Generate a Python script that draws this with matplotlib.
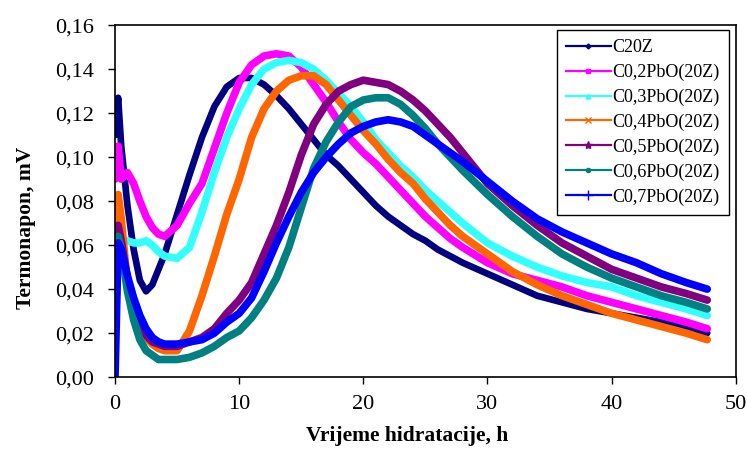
import matplotlib
matplotlib.use("Agg")
import matplotlib.pyplot as plt
from matplotlib.lines import Line2D
from matplotlib.ticker import FuncFormatter, MultipleLocator

plt.rcParams['font.family'] = ['Liberation Serif', 'DejaVu Serif']

# time grid (h)
t = [0, 0.25, 0.5, 1, 1.5, 2, 2.5, 3, 3.5, 4, 5, 6, 7, 8, 9, 10, 11, 12, 13, 14,
     15, 16, 17, 18, 19, 20, 21, 22, 23, 24, 25, 26, 27, 28, 30, 32, 34, 36, 38,
     40, 42, 44, 46, 47.7]

series_names = ["C20Z", "C0,2PbO(20Z)", "C0,3PbO(20Z)", "C0,4PbO(20Z)",
                "C0,5PbO(20Z)", "C0,6PbO(20Z)", "C0,7PbO(20Z)"]

c20z = [0.110, 0.127, 0.105, 0.078, 0.058, 0.044, 0.039, 0.042, 0.049, 0.056,
        0.074, 0.092, 0.109, 0.123, 0.132, 0.136, 0.136, 0.133, 0.128, 0.122,
        0.115, 0.108, 0.101, 0.096, 0.090, 0.084, 0.078, 0.073, 0.069, 0.065,
        0.062, 0.058, 0.055, 0.052, 0.047, 0.042, 0.037, 0.034, 0.031, 0.029,
        0.027, 0.025, 0.022, 0.020]
c02 = [0.090, 0.105, 0.090, 0.093, 0.088, 0.080, 0.073, 0.068, 0.065, 0.064,
       0.069, 0.079, 0.088, 0.104, 0.120, 0.134, 0.142, 0.146, 0.147, 0.146,
       0.141, 0.133, 0.125, 0.116, 0.108, 0.102, 0.097, 0.091, 0.085, 0.079,
       0.073, 0.068, 0.063, 0.059, 0.052, 0.047, 0.044, 0.041, 0.037, 0.034,
       0.031, 0.028, 0.025, 0.022]
c03 = [0.070, 0.066, 0.062, 0.062, 0.061, 0.061, 0.062, 0.060, 0.057, 0.055,
       0.054, 0.059, 0.075, 0.093, 0.109, 0.122, 0.133, 0.140, 0.143, 0.144,
       0.143, 0.140, 0.135, 0.129, 0.123, 0.116, 0.108, 0.102, 0.096, 0.091,
       0.085, 0.080, 0.075, 0.070, 0.061, 0.055, 0.050, 0.046, 0.043, 0.041,
       0.037, 0.034, 0.031, 0.028]
c04 = [0.030, 0.083, 0.072, 0.042, 0.030, 0.023, 0.018, 0.015, 0.013, 0.012,
       0.012, 0.021, 0.037, 0.055, 0.074, 0.090, 0.109, 0.122, 0.130, 0.135,
       0.137, 0.137, 0.133, 0.126, 0.119, 0.112, 0.106, 0.099, 0.093, 0.088,
       0.081, 0.075, 0.069, 0.064, 0.056, 0.048, 0.042, 0.037, 0.033, 0.029,
       0.026, 0.023, 0.020, 0.017]
c05 = [0.030, 0.069, 0.062, 0.045, 0.033, 0.025, 0.019, 0.016, 0.015, 0.014,
       0.014, 0.016, 0.018, 0.022, 0.029, 0.035, 0.043, 0.056, 0.069, 0.084,
       0.101, 0.115, 0.124, 0.130, 0.133, 0.135, 0.134, 0.133, 0.130, 0.126,
       0.121, 0.115, 0.109, 0.102, 0.088, 0.078, 0.069, 0.061, 0.055, 0.049,
       0.045, 0.041, 0.038, 0.035]
c06 = [0.020, 0.064, 0.058, 0.039, 0.026, 0.017, 0.012, 0.010, 0.008, 0.008,
       0.008, 0.009, 0.011, 0.014, 0.018, 0.021, 0.027, 0.035, 0.045, 0.059,
       0.077, 0.095, 0.107, 0.116, 0.123, 0.126, 0.127, 0.127, 0.124, 0.119,
       0.113, 0.106, 0.100, 0.094, 0.083, 0.073, 0.064, 0.056, 0.050, 0.045,
       0.041, 0.037, 0.034, 0.031]
c07 = [0.000, 0.061, 0.058, 0.046, 0.036, 0.028, 0.022, 0.018, 0.016, 0.015,
       0.015, 0.016, 0.017, 0.020, 0.025, 0.029, 0.036, 0.048, 0.061, 0.073,
       0.084, 0.093, 0.100, 0.106, 0.111, 0.114, 0.116, 0.117, 0.116, 0.114,
       0.110, 0.106, 0.102, 0.098, 0.089, 0.080, 0.072, 0.066, 0.061, 0.056,
       0.052, 0.047, 0.043, 0.040]

values = [c20z, c02, c03, c04, c05, c06, c07]
colors = ["#000080", "#FF00FF", "#33FFFF", "#FF6600", "#800080", "#008080", "#0000FF"]
markers = ["D", "s", "^", "x", "*", "o", "+"]
msizes = [2.5, 3.5, 3.5, 5, 6, 3, 7]
widths = [4.8, 5.5, 5.5, 5.5, 5.5, 5.5, 5.5]

fig = plt.figure(figsize=(7.47, 4.5), dpi=100)
ax = fig.add_axes([0.154, 0.162, 0.831, 0.782])

for vals, col, lw in zip(values, colors, widths):
    ax.plot(t, vals, color=col, lw=lw, solid_joinstyle='round',
            solid_capstyle='round')

ax.set_xlim(0, 50)
ax.set_ylim(0, 0.16)
ax.xaxis.set_major_locator(MultipleLocator(10))
ax.yaxis.set_major_locator(MultipleLocator(0.02))
ax.yaxis.set_major_formatter(FuncFormatter(lambda v, p: f"{v:.2f}".replace('.', ',')))
ax.tick_params(axis='both', direction='out', length=5, width=1, labelsize=16,
               colors='black')
ax.tick_params(axis='y', pad=10)
ax.tick_params(axis='x', pad=8)
ax.tick_params(top=False, right=False)
for sp in ax.spines.values():
    sp.set_linewidth(1.2)
    sp.set_color('black')

ax.set_xlabel("Vrijeme hidratacije, h", fontsize=15.5, fontweight='bold')
ax.set_ylabel("Termonapon, mV", fontsize=15.5, fontweight='bold')
ax.xaxis.set_label_coords(0.470, -0.168)
ax.xaxis.label.set_va('center')
ax.yaxis.set_label_coords(-0.143, 0.423)
ax.yaxis.label.set_va('center')

handles = [Line2D([], [], color=c, lw=1.6, marker=m, markersize=s,
                  markeredgewidth=1)
           for c, m, s in zip(colors, markers, msizes)]
leg = ax.legend(handles, series_names, loc='upper right',
                bbox_to_anchor=(0.989, 0.986), fontsize=13, frameon=True,
                fancybox=False, edgecolor='black', framealpha=1,
                handlelength=2.5, handletextpad=0.1, labelspacing=0.42,
                borderpad=0.5, borderaxespad=0)
leg.get_frame().set_linewidth(1.0)

fig.savefig("out.png", dpi=100)
